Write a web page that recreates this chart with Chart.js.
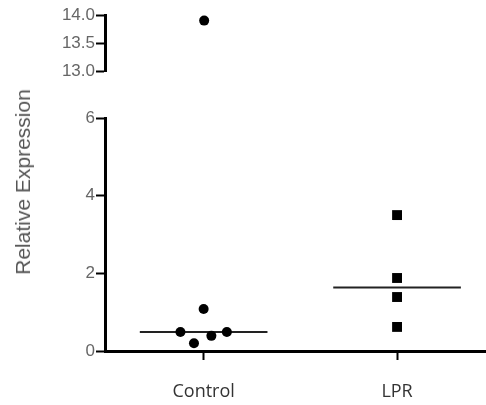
<!DOCTYPE html>
<html>
<head>
    <title>Relative Expression</title>
    <script src="https://cdn.jsdelivr.net/npm/chart.js"></script>
    <style>
        body {
            margin: 0;
            background: #ffffff;
            overflow: hidden;
        }

        #wrap {
            position: relative;
            width: 486px;
            height: 405px;
            overflow: hidden;
        }

        canvas {
            position: absolute;
            top: 0;
            left: 0;
        }

        #yTitle {
            position: absolute;
            left: 23px;
            top: 182px;
            transform: translate(-50%, -50%) rotate(-90deg);
            font-family: 'Liberation Sans', Arial, sans-serif;
            font-size: 21px;
            color: #555555;
            white-space: nowrap;
        }
    </style>
</head>
<body>
<div id="wrap">
    <!-- canvases a bit wider than the page so the x axis runs to the right edge -->
    <canvas id="lower" width="494" height="405"></canvas>
    <canvas id="upper" width="494" height="405"></canvas>
    <div id="yTitle">Relative Expression</div>
</div>

<script>
    // Data
    var categories = ['Control', 'LPR'];
    var controlValues = [13.9, 1.08, 0.49, 0.2, 0.39, 0.49];
    var controlJitter = [0, 0, -0.12, -0.05, 0.04, 0.12]; // horizontal spread of the dots
    var lprValues = [3.5, 1.88, 1.39, 0.62];
    var lprJitter = [0, 0, 0, 0];
    var lowerTicks = [0, 2, 4, 6];
    var upperTicks = [13.0, 13.5, 14.0];

    Chart.defaults.animation = false;

    function median(arr) {
        var s = arr.slice().sort(function (a, b) { return a - b; });
        var m = Math.floor(s.length / 2);
        return s.length % 2 ? s[m] : (s[m - 1] + s[m]) / 2;
    }

    // points for one group, only the ones that fall in [lo, hi]
    function groupPoints(values, jitter, index, lo, hi) {
        var pts = [];
        values.forEach(function (v, i) {
            if (v >= lo && v <= hi) pts.push({x: index + jitter[i], y: v});
        });
        return pts;
    }

    function medianLine(values, index) {
        var m = median(values);
        return {
            type: 'line',
            data: [{x: index - 0.33, y: m}, {x: index + 0.33, y: m}],
            borderColor: '#222222',
            borderWidth: 2,
            pointRadius: 0,
            clip: false
        };
    }

    function pointSets(lo, hi) {
        return [{
            type: 'scatter',
            data: groupPoints(controlValues, controlJitter, 0, lo, hi),
            pointStyle: 'circle',
            pointRadius: 5,
            backgroundColor: '#000000',
            borderWidth: 0,
            clip: false
        }, {
            type: 'scatter',
            data: groupPoints(lprValues, lprJitter, 1, lo, hi),
            pointStyle: 'rect',
            pointRadius: 7,
            backgroundColor: '#000000',
            borderWidth: 0,
            clip: false
        }];
    }

    var tickFont = {family: "'Liberation Sans', Arial, sans-serif", size: 17};

    function yScale(min, max, ticks, fmt) {
        return {
            type: 'linear',
            min: min,
            max: max,
            afterFit: function (scale) { scale.width = 105; },
            afterBuildTicks: function (scale) {
                scale.ticks = ticks.map(function (v) { return {value: v}; });
            },
            border: {display: true, color: '#000000', width: 3},
            grid: {drawOnChartArea: false, drawTicks: true, tickLength: 9, tickWidth: 2, tickColor: '#000000'},
            ticks: {
                padding: 1,
                color: '#666666',
                font: tickFont,
                callback: function (v) { return fmt(v); }
            }
        };
    }

    function xScale(show) {
        return {
            type: 'linear',
            min: -0.51,
            max: 1.465,
            display: show,
            afterFit: function (scale) { if (show) scale.height = 54; },
            afterBuildTicks: function (scale) {
                scale.ticks = categories.map(function (c, i) { return {value: i}; });
            },
            border: {display: true, color: '#000000', width: 3},
            grid: {drawOnChartArea: false, drawTicks: true, tickLength: 9, tickWidth: 2, tickColor: '#000000'},
            ticks: {
                padding: 21,
                color: '#333333',
                font: {family: "'Open Sans', sans-serif", size: 18},
                callback: function (v) { return categories[v]; }
            }
        };
    }

    var commonPlugins = {legend: {display: false}, tooltip: {enabled: false}};

    // lower segment 0 - 6 with the category axis
    new Chart(document.getElementById('lower'), {
        type: 'scatter',
        data: {
            datasets: pointSets(0, 6).concat([
                medianLine(controlValues, 0),
                medianLine(lprValues, 1)
            ])
        },
        options: {
            responsive: false,
            layout: {padding: {top: 118, left: 0, right: 0, bottom: 0}},
            plugins: commonPlugins,
            scales: {
                x: xScale(true),
                y: yScale(0, 6, lowerTicks, function (v) { return String(v); })
            }
        }
    });

    // upper segment 13 - 14 (broken axis)
    new Chart(document.getElementById('upper'), {
        type: 'scatter',
        data: {datasets: pointSets(13, 14)},
        options: {
            responsive: false,
            layout: {padding: {top: 15, left: 0, right: 0, bottom: 334}},
            plugins: commonPlugins,
            scales: {
                x: xScale(false),
                y: yScale(13, 14, upperTicks, function (v) { return v.toFixed(1); })
            }
        }
    });
</script>
</body>
</html>
